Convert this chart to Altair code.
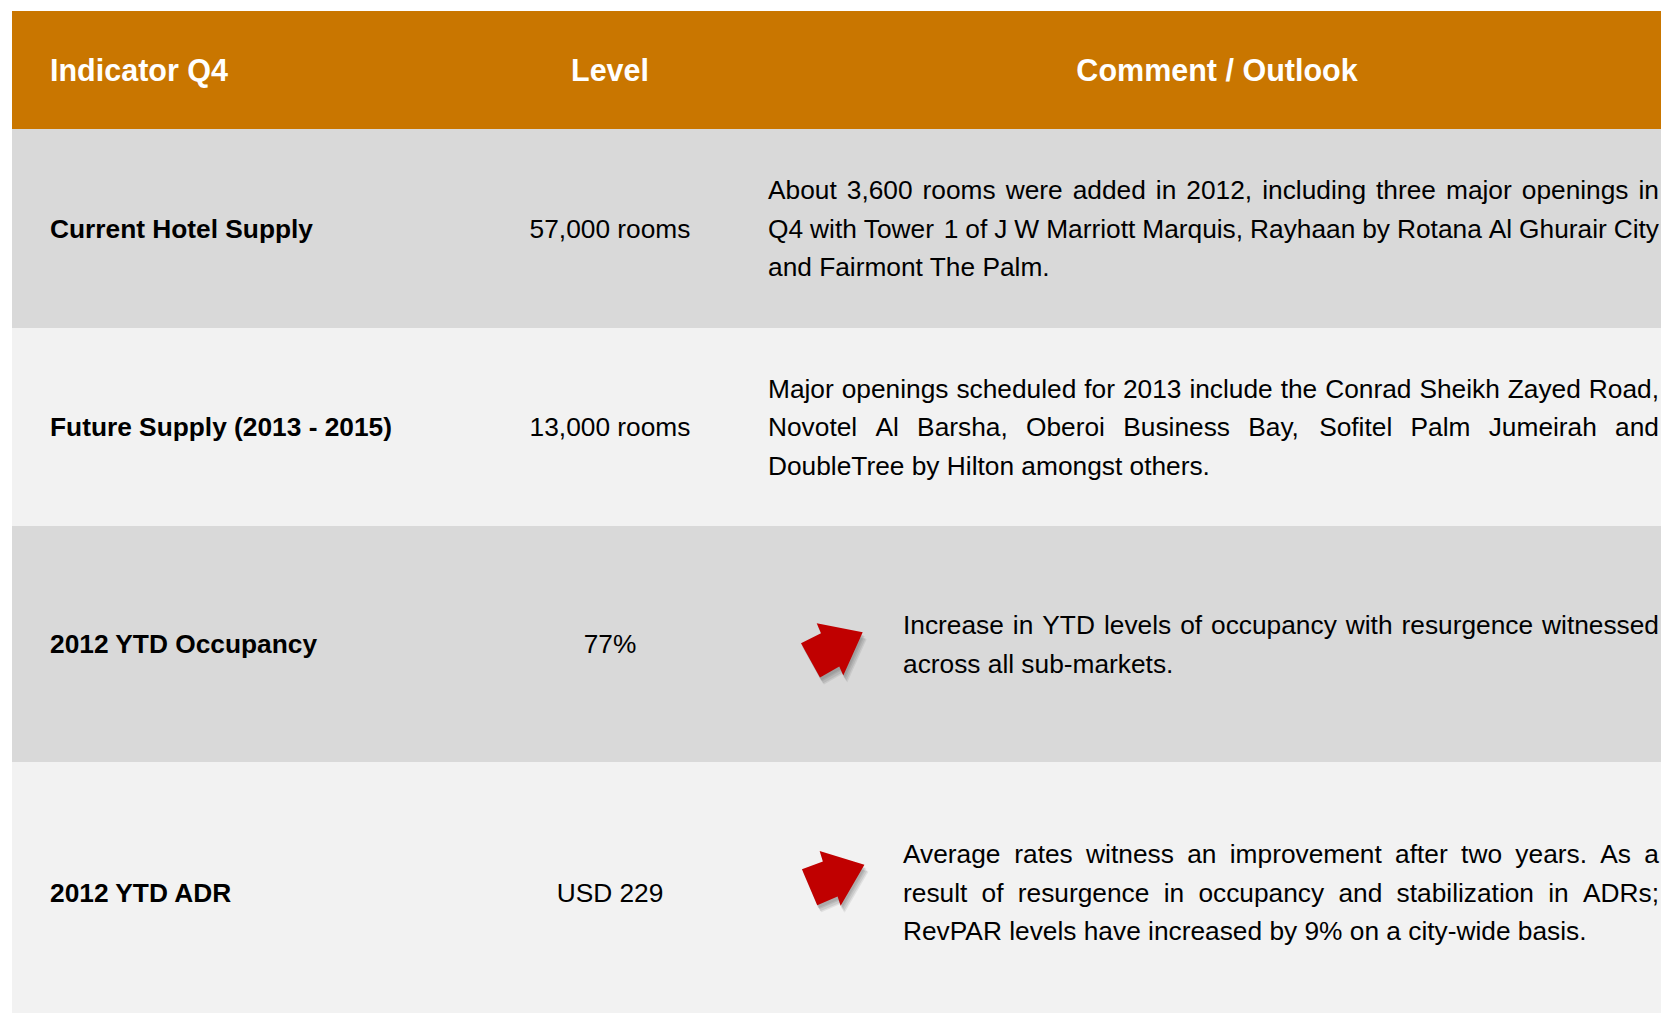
import altair as alt
import pandas as pd

# ---------------- data ----------------
header_labels = ["Indicator Q4", "Level", "Comment / Outlook"]
indicators = [
    "Current Hotel Supply",
    "Future Supply (2013 - 2015)",
    "2012 YTD Occupancy",
    "2012 YTD ADR",
]
levels = ["57,000 rooms", "13,000 rooms", "77%", "USD 229"]
trend_up = [False, False, True, True]
comments = [
    ["About 3,600 rooms were added in 2012, including three major openings in",
     "Q4 with Tower 1 of J W Marriott Marquis, Rayhaan by Rotana Al Ghurair City",
     "and Fairmont The Palm."],
    ["Major openings scheduled for 2013 include the Conrad Sheikh Zayed Road,",
     "Novotel Al Barsha, Oberoi Business Bay, Sofitel Palm Jumeirah and",
     "DoubleTree by Hilton amongst others."],
    ["Increase in YTD levels of occupancy with resurgence witnessed",
     "across all sub-markets."],
    ["Average rates witness an improvement after two years. As a",
     "result of resurgence in occupancy and stabilization in ADRs;",
     "RevPAR levels have increased by 9% on a city-wide basis."],
]

# ---------------- layout / style ----------------
W, H = 1649, 1002
HEADER_H = 118
ROW_H = [199, 198, 236, 261]
COL_LABEL_X = 38
COL_LEVEL_X = 598
COL_COMMENT_X = 756
COL_COMMENT_ARROW_X = 891
COL_RIGHT = 1647
HEADER_COMMENT_CX = 1205
ARROW_X = 820
ARROW_ANGLE = [0, 0, 0, 6]
LINE_H = 38.5
FS = 26.3
FS_LABEL = 26.3
FS_HEAD = 30.5
HEADER_FILL = "#C97600"
ROW_FILLS = ["#D9D9D9", "#F2F2F2"]
ARROW_RED = "#C00000"
FONT = "'Liberation Sans', Arial, sans-serif"

ARIAL = {
    'A': 667, 'B': 667, 'C': 722, 'D': 722, 'E': 667, 'F': 611, 'G': 778, 'H': 722,
    'I': 278, 'J': 500, 'K': 667, 'L': 556, 'M': 833, 'N': 722, 'O': 778, 'P': 667,
    'Q': 778, 'R': 722, 'S': 667, 'T': 611, 'U': 722, 'V': 667, 'W': 944, 'X': 667,
    'Y': 667, 'Z': 611,
    'a': 556, 'b': 556, 'c': 500, 'd': 556, 'e': 556, 'f': 278, 'g': 556, 'h': 556,
    'i': 222, 'j': 222, 'k': 500, 'l': 222, 'm': 833, 'n': 556, 'o': 556, 'p': 556,
    'q': 556, 'r': 333, 's': 500, 't': 278, 'u': 556, 'v': 500, 'w': 722, 'x': 500,
    'y': 500, 'z': 500,
    ' ': 278, ',': 278, '.': 278, ';': 278, ':': 278, '-': 333, '%': 889, '/': 278,
    '(': 333, ')': 333,
}


def text_w(s, fs=FS):
    return sum(ARIAL.get(c, 556) for c in s) / 1000.0 * fs


CAP = 0.36  # half cap height (em)

# ---------------- build tables ----------------
tops = [HEADER_H]
for h in ROW_H[:-1]:
    tops.append(tops[-1] + h)
centers = [t + h / 2 for t, h in zip(tops, ROW_H)]

rects = [{"y0": 0, "y1": HEADER_H, "x0": 0, "x1": W, "fill": HEADER_FILL}]
for i, (t, h) in enumerate(zip(tops, ROW_H)):
    rects.append({"y0": t, "y1": t + h, "x0": 0, "x1": W, "fill": ROW_FILLS[i % 2]})
rects = pd.DataFrame(rects)

head_base = HEADER_H / 2 + CAP * FS_HEAD
head_left = pd.DataFrame([{"x": COL_LABEL_X, "y": head_base, "t": header_labels[0]}])
head_center = pd.DataFrame([
    {"x": COL_LEVEL_X, "y": head_base, "t": header_labels[1]},
    {"x": HEADER_COMMENT_CX, "y": head_base, "t": header_labels[2]},
])

labels = pd.DataFrame([{"x": COL_LABEL_X, "y": c + CAP * FS_LABEL, "t": s}
                       for c, s in zip(centers, indicators)])
levs = pd.DataFrame([{"x": COL_LEVEL_X, "y": c + CAP * FS, "t": s}
                     for c, s in zip(centers, levels)])

words_left, words_right, plain_lines, arrows = [], [], [], []
for r, lines in enumerate(comments):
    left = COL_COMMENT_ARROW_X if trend_up[r] else COL_COMMENT_X
    n = len(lines)
    first = centers[r] - (n - 1) / 2 * LINE_H
    for k, line in enumerate(lines):
        yb = first + k * LINE_H + CAP * FS
        if k == n - 1:
            plain_lines.append({"x": left, "y": yb, "t": line})
            continue
        ws = line.split(" ")
        wsum = sum(text_w(w) for w in ws)
        gap = (COL_RIGHT - left - wsum) / (len(ws) - 1)
        xpos = left
        for j, w in enumerate(ws):
            if j == len(ws) - 1:
                words_right.append({"x": COL_RIGHT, "y": yb, "t": w})
            else:
                words_left.append({"x": xpos, "y": yb, "t": w})
            xpos += text_w(w) + gap
    if trend_up[r]:
        ay = first + LINE_H / 2 + 6.5
        arrows.append({"x": ARROW_X, "y": ay, "a": ARROW_ANGLE[r]})

words_left = pd.DataFrame(words_left)
words_right = pd.DataFrame(words_right)
plain_lines = pd.DataFrame(plain_lines)
arrows = pd.DataFrame(arrows)

xs = alt.Scale(domain=[0, W], nice=False, zero=False)
ys = alt.Scale(domain=[0, H], nice=False, zero=False, reverse=True)
X = lambda f="x": alt.X(f"{f}:Q", scale=xs, axis=None)
Y = lambda f="y": alt.Y(f"{f}:Q", scale=ys, axis=None)

bg = alt.Chart(rects).mark_rect(strokeWidth=0).encode(
    x=X("x0"), x2="x1:Q", y=Y("y0"), y2="y1:Q",
    color=alt.Color("fill:N", scale=None),
)


def txt(df, align, size, weight="normal", color="#000000"):
    return alt.Chart(df).mark_text(
        align=align, baseline="alphabetic", font=FONT, fontSize=size,
        fontWeight=weight, color=color,
    ).encode(x=X(), y=Y(), text="t:N")


ARROW_PATH = ("M 0.959 -0.572 L -0.478 -0.853 L -0.344 -0.541 L -0.969 -0.228 "
              "L -0.375 0.844 L 0.228 0.5 L 0.353 0.781 Z")

shadows = []
for dx, dy, op in [(2, 4, 0.12), (3, 6, 0.12), (4, 7, 0.10), (1, 3, 0.12)]:
    sd = arrows.assign(x=arrows.x + dx, y=arrows.y + dy)
    shadows.append(
        alt.Chart(sd).mark_point(shape=ARROW_PATH, size=4096, filled=True,
                                 color="#404040", opacity=op, strokeWidth=0)
        .encode(x=X(), y=Y(), angle=alt.Angle("a:Q", scale=None))
    )

arrow_layer = alt.Chart(arrows).mark_point(
    shape=ARROW_PATH, size=4096, filled=True, color=ARROW_RED, opacity=1, strokeWidth=0
).encode(x=X(), y=Y(), angle=alt.Angle("a:Q", scale=None))

chart = alt.layer(
    bg,
    txt(head_left, "left", FS_HEAD, "bold", "#FFFFFF"),
    txt(head_center, "center", FS_HEAD, "bold", "#FFFFFF"),
    txt(labels, "left", FS_LABEL, "bold"),
    txt(levs, "center", FS),
    txt(words_left, "left", FS),
    txt(words_right, "right", FS),
    txt(plain_lines, "left", FS),
    *shadows,
    arrow_layer,
).properties(
    width=W, height=H,
    padding={"left": 4, "top": 3, "right": 0, "bottom": 0},
    autosize=alt.AutoSizeParams(type="none"),
).configure_view(strokeWidth=0)

chart.save("out.html", embed_options={"renderer": "svg", "actions": False})
